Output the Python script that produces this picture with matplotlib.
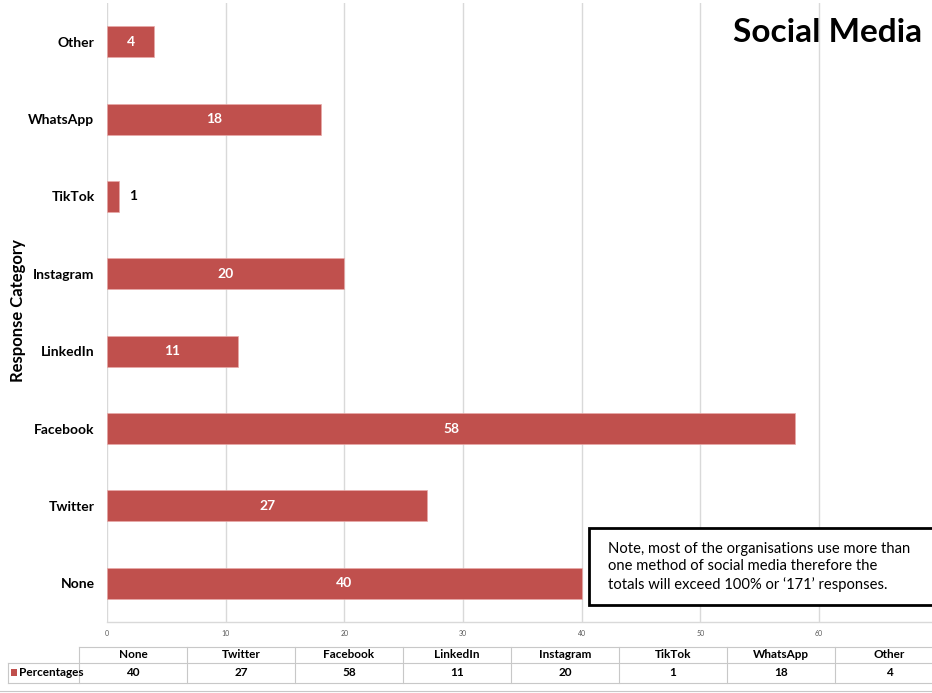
import matplotlib
matplotlib.use("Agg")
import matplotlib.pyplot as plt
from matplotlib.patches import Rectangle

categories = ["None", "Twitter", "Facebook", "LinkedIn", "Instagram", "TikTok", "WhatsApp", "Other"]
values = [40, 27, 58, 11, 20, 1, 18, 4]
series_name = "Percentages"
x_ticks = [0, 10, 20, 30, 40, 50, 60]
title = "Social Media"
ylabel = "Response Category"
note = ("Note, most of the organisations use more than\n"
        "one method of social media therefore the\n"
        "totals will exceed 100% or \u2018171\u2019 responses.")

W, H = 932, 693
BAR = "#C0504D"
GRID = "#D9D9D9"
FONT = ["Lato", "DejaVu Sans"]
plt.rcParams["font.family"] = FONT

fig = plt.figure(figsize=(W / 100, H / 100), dpi=100)

def fx(px):
    return px / W

def fy(py):
    return 1 - py / H

# main axes: x 0 at px 107, 60 at px 819 -> 70 at ~938
x0, x60 = 107, 819
x70 = x0 + 70 * (x60 - x0) / 60
top, bot = 3, 622
ax = fig.add_axes([fx(x0), fy(bot), fx(x70) - fx(x0), fy(top) - fy(bot)])
ax.set_xlim(0, 70)
ax.set_ylim(-0.5, 7.5)
ax.set_xticks(range(0, 71, 10))
ax.xaxis.grid(True, color=GRID, lw=1)
ax.set_axisbelow(True)
for s in ax.spines.values():
    s.set_visible(False)
ax.tick_params(length=0)
ax.set_xticklabels([])
ax.set_yticks(range(len(categories)))
ax.set_yticklabels(categories, fontsize=10, fontweight="bold")
ax.tick_params(axis="y", pad=9)

ypos = list(range(len(categories)))
ax.barh(ypos, values, height=0.4, color=BAR, edgecolor="#E8A9A8", lw=0.5)
for y, v in zip(ypos, values):
    if v >= 3:
        ax.text(v / 2, y, str(v), color="white", fontsize=10, fontweight="bold",
                ha="center", va="center")
    else:
        ax.text(v + 1.2, y, str(v), color="black", fontsize=10, fontweight="bold",
                ha="center", va="center")

# bottom border of plot area
ax.plot([0, 70], [-0.5, -0.5], color=GRID, lw=1, clip_on=False)

# x tick labels (small)
for t in x_ticks:
    fig.text(fx(x0 + t * (x60 - x0) / 60), fy(634), str(t), fontsize=5,
             color="#595959", ha="center", va="center")

# y label
fig.text(fx(18), fy(311), ylabel, rotation=90, fontsize=12, fontweight="bold",
         ha="center", va="center")

# title
fig.text(fx(733), fy(32), title, fontsize=24, fontweight="bold",
         ha="left", va="center")

# note box
fig.patches.append(Rectangle((fx(589), fy(605)), fx(360), fy(528) - fy(605),
                             transform=fig.transFigure, facecolor="white",
                             edgecolor="black", lw=2, zorder=5))
fig.text(fx(608), fy(567), note, fontsize=10.6, ha="left", va="center",
         linespacing=1.3, zorder=6)

# data table
tcol0 = 79
tw = 108
h_top, h_mid, h_bot = 647, 663, 683
lc = "#C8C8C8"
def hline(y, xa, xb):
    fig.add_artist(plt.Line2D([fx(xa), fx(xb)], [fy(y), fy(y)], color=lc, lw=0.8))
def vline(x, ya, yb):
    fig.add_artist(plt.Line2D([fx(x), fx(x)], [fy(ya), fy(yb)], color=lc, lw=0.8))

hline(h_top, tcol0, W + 20)
hline(h_mid, 8, W + 20)
hline(h_bot, 8, W + 20)
vline(8, h_mid, h_bot)
for i in range(len(categories) + 1):
    vline(tcol0 + i * tw, h_top, h_bot)
for i, (c, v) in enumerate(zip(categories, values)):
    cx = tcol0 + i * tw + tw / 2
    fig.text(fx(cx), fy((h_top + h_mid) / 2), c, fontsize=8.5, fontweight="bold",
             ha="center", va="center")
    fig.text(fx(cx), fy((h_mid + h_bot) / 2), str(v), fontsize=8.5, fontweight="bold",
             ha="center", va="center")
fig.patches.append(Rectangle((fx(11), fy(676)), fx(6), fy(669) - fy(676),
                             transform=fig.transFigure, facecolor=BAR, edgecolor="none"))
fig.text(fx(19), fy((h_mid + h_bot) / 2), series_name, fontsize=8.5, fontweight="bold",
         ha="left", va="center")
hline(691, 0, W)

fig.savefig("out.png", dpi=100)
